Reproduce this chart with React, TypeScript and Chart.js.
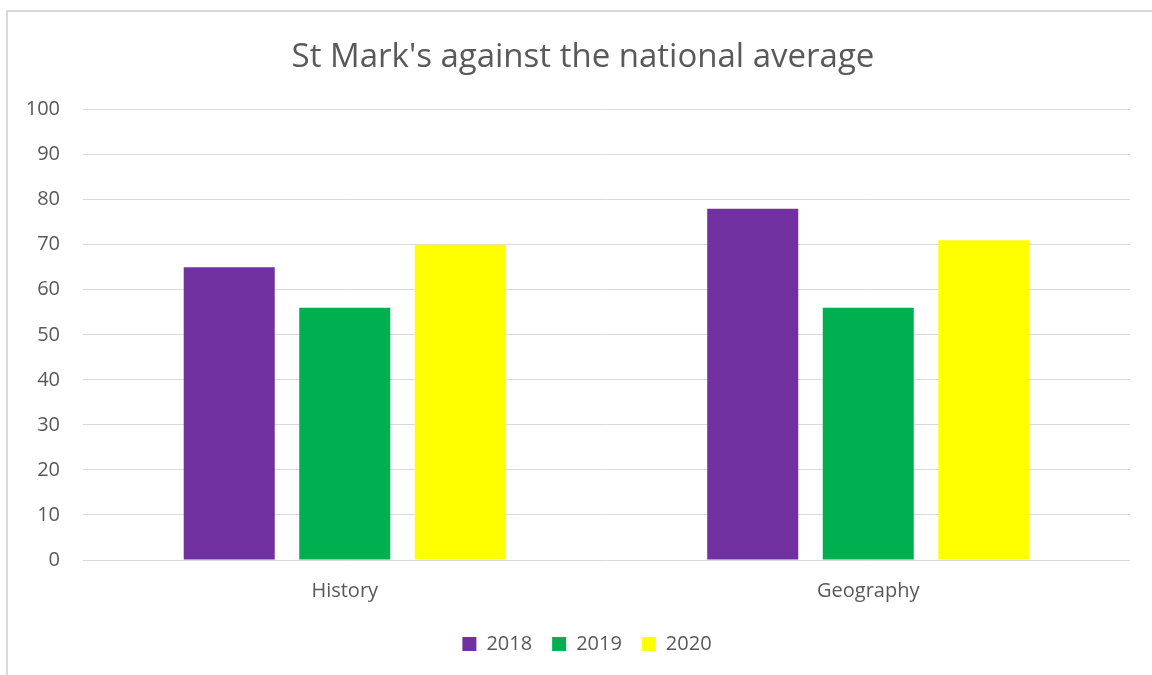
import React, { useEffect, useRef } from "react";
import { Chart, registerables } from "chart.js";

Chart.register(...registerables);

const title = "St Mark's against the national average";
const categories = ["History", "Geography"];
const seriesLabels = ["2018", "2019", "2020"];
const values2018 = [65, 78];
const values2019 = [56, 56];
const values2020 = [70, 71];
const seriesColors = ["#7030a0", "#00b050", "#ffff00"];
const yMin = 0;
const yMax = 100;
const yStep = 10;

const FONT = "'Open Sans', 'DejaVu Sans', sans-serif";
const TEXT = "#595959";
const GRID = "#d9d9d9";

// shifts the title and legend boxes horizontally so they are centred like the reference
const shiftBoxes = {
  id: "shiftBoxes",
  afterLayout(chart: any) {
    const t = chart.titleBlock;
    if (t) {
      t.left += 18;
      t.right += 18;
    }
    const l = chart.legend;
    if (l) {
      l.left += 22;
      l.right += 22;
    }
  },
};

export default function App() {
  const ref = useRef<HTMLCanvasElement | null>(null);

  useEffect(() => {
    if (!ref.current) return;
    const seriesValues = [values2018, values2019, values2020];
    const chart = new Chart(ref.current, {
      type: "bar",
      data: {
        labels: categories,
        datasets: seriesLabels.map((label, i) => ({
          label,
          data: seriesValues[i],
          backgroundColor: seriesColors[i],
          borderWidth: 0,
          barPercentage: 0.788,
          categoryPercentage: 0.662,
        })),
      },
      plugins: [shiftBoxes],
      options: {
        animation: false,
        responsive: false,
        devicePixelRatio: 1,
        layout: { padding: { left: 0, right: 22, top: 0, bottom: 11 } },
        plugins: {
          title: {
            display: true,
            text: title,
            color: TEXT,
            font: { family: FONT, size: 33, weight: "normal" },
            padding: { top: 38, bottom: 32 },
          },
          legend: {
            display: true,
            position: "bottom",
            labels: {
              color: TEXT,
              font: { family: FONT, size: 20 },
              boxWidth: 14,
              boxHeight: 14,
              padding: 20,
            },
          },
          tooltip: { enabled: false },
        },
        scales: {
          x: {
            grid: { display: false, drawTicks: false },
            border: { display: false },
            ticks: {
              color: TEXT,
              font: { family: FONT, size: 20 },
              padding: 19,
            },
            afterFit: (scale: any) => {
              scale.height = 54;
            },
          },
          y: {
            min: yMin,
            max: yMax,
            grid: { color: GRID, lineWidth: 1, drawTicks: false },
            border: { display: false },
            ticks: {
              stepSize: yStep,
              color: TEXT,
              font: { family: FONT, size: 20 },
              padding: 23,
            },
            afterFit: (scale: any) => {
              scale.width = 83;
            },
          },
        },
      },
    });
    return () => chart.destroy();
  }, []);

  return (
    <div
      style={{
        position: "fixed",
        left: 0,
        top: 0,
        width: 1152,
        height: 675,
        background: "#ffffff",
        overflow: "hidden",
      }}
    >
      <div
        style={{
          position: "absolute",
          left: 6,
          top: 10,
          width: 1200,
          height: 700,
          border: `2px solid ${GRID}`,
          boxSizing: "border-box",
        }}
      />
      <canvas
        ref={ref}
        width={1152}
        height={675}
        style={{ position: "absolute", left: 0, top: 0, width: 1152, height: 675 }}
      />
    </div>
  );
}
